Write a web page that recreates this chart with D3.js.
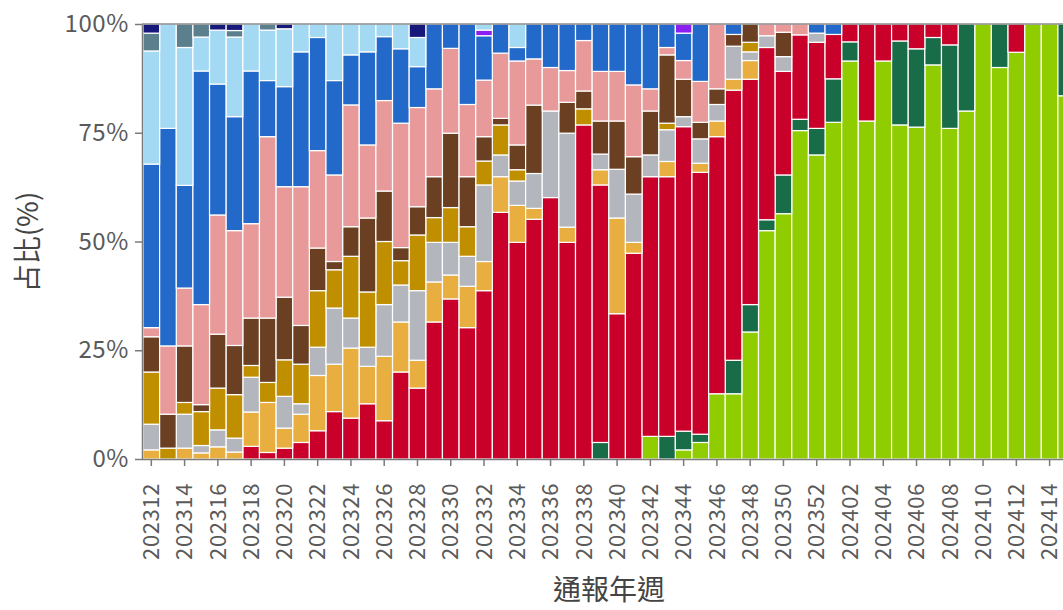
<!DOCTYPE html>
<html><head><meta charset="utf-8">
<script src="https://cdn.jsdelivr.net/npm/d3@7"></script>
<style>
html,body{margin:0;padding:0;background:#fff;overflow:hidden;}
svg{display:block;font-family:"Noto Sans CJK TC","Noto Sans",sans-serif;}
</style></head>
<body>
<svg id="chart" width="1063" height="610"></svg>
<script>
const weeks = ["202312","202313","202314","202315","202316","202317","202318","202319","202320","202321",
"202322","202323","202324","202325","202326","202327","202328","202329","202330","202331",
"202332","202333","202334","202335","202336","202337","202338","202339","202340","202341",
"202342","202343","202344","202345","202346","202347","202348","202349","202350","202351",
"202352","202401","202402","202403","202404","202405","202406","202407","202408","202409",
"202410","202411","202412","202413","202414","202415"];

// series values (% share), bottom to top of each stack
const lime    = [0,0,0,0,0,0,0,0,0,0, 0,0,0,0,0,0,0,0,0,0, 0,0,0,0,0,0,0,0,0,0, 5.2,0,2.1,3.8,15.0,15.0,29.2,52.5,56.4,75.5, 69.9,77.4,91.5,77.7,91.5,76.8,76.3,90.6,76.0,80.0, 100,90.0,93.5,100,100,83.5];
const dkgreen = [0,0,0,0,0,0,0,0,0,0, 0,0,0,0,0,0,0,0,0,0, 0,0,0,0,0,0,0,3.8,0,0, 0,5.2,4.3,1.9,0,7.7,6.3,2.5,8.9,2.6, 6.1,10.0,4.4,0,0,19.3,18.0,6.3,19.2,20.0, 0,10.0,0,0,0,16.5];
const crimson = [0,0,0,0,0,0,2.9,1.5,2.5,3.8, 6.5,10.9,9.4,12.7,8.8,20.0,16.3,31.5,36.8,30.2, 38.7,56.7,49.8,55.0,60.1,49.8,76.8,59.2,33.4,47.3, 59.7,59.7,70.0,60.2,59.1,62.1,51.8,39.6,23.8,19.4, 19.8,10.2,4.1,22.3,8.5,3.9,5.7,3.1,4.8,0, 0,0,6.5,0,0,0];
const lorange = [2.1,0,2.5,1.4,2.8,1.6,7.9,11.5,4.6,6.5, 12.7,10.9,16.1,8.6,14.8,11.5,6.4,9.2,5.5,9.5, 6.7,8.2,8.5,2.5,0,3.5,0,3.5,22.0,2.5, 0,3.5,0,2.1,3.6,2.5,4.3,0,0,0, 0,0,0,0,0,0,0,0,0,0, 0,0,0,0,0,0];
const gray    = [5.9,0,7.8,1.7,3.9,3.2,8.0,0,7.3,2.4, 6.5,12.9,6.9,4.4,11.9,8.5,16.0,9.1,7.5,6.9, 17.6,5.0,5.6,8.0,19.9,21.6,0,3.6,11.2,11.1, 5.0,7.3,2.3,5.6,3.8,7.6,2.0,2.7,3.4,0, 2.1,0,0,0,0,0,0,0,0,0, 0,0,0,0,0,0];
const gold    = [12.0,2.5,2.7,7.8,9.6,10.0,2.7,4.6,8.4,9.1, 13.0,8.8,14.2,12.7,14.5,5.6,12.8,5.7,8.0,6.8, 5.5,6.9,2.6,0,0,0,3.7,0,0,0, 0,1.5,0,0,0,0,2.2,0,0,0, 0,0,0,0,0,0,0,0,0,0, 0,0,0,0,0,0];
const brown   = [8.1,7.8,13.0,1.6,12.4,11.3,10.9,14.8,14.4,8.9, 9.8,1.9,6.8,17.0,11.6,3.0,6.5,9.4,17.1,11.5, 5.6,1.5,5.7,15.7,0,7.1,4.1,7.6,11.1,8.6, 10.1,15.7,8.6,3.8,3.6,2.7,4.2,0,5.6,0, 0,0,0,0,0,0,0,0,0,0, 0,0,0,0,0,0];
const pink    = [2.1,15.7,13.3,23.0,27.4,26.4,21.7,41.7,25.4,31.9, 22.4,19.9,28.0,16.8,20.8,28.6,22.8,20.2,19.5,16.6, 13.0,15.0,19.3,10.6,10.0,7.3,11.6,11.4,11.4,16.5, 5.1,1.7,4.3,9.4,14.9,0,0,2.7,1.9,2.5, 0,0,0,0,0,0,0,0,0,0, 0,0,0,0,0,0];
const blue    = [37.6,50.0,23.6,53.7,30.1,26.2,35.1,12.9,23.0,31.0, 26.0,21.7,11.5,21.4,14.7,17.1,9.4,14.9,5.6,18.5, 10.2,6.7,3.1,8.0,10.0,10.7,3.8,10.9,10.9,14.0, 14.9,5.4,6.3,13.2,0,2.4,0,0,0,0, 2.1,2.4,0,0,0,0,0,0,0,0, 0,0,0,0,0,0];
const purple  = [0,0,0,0,0,0,0,0,0,0, 0,0,0,0,0,0,0,0,0,0, 1.3,0,0,0,0,0,0,0,0,0, 0,0,2.1,0,0,0,0,0,0,0, 0,0,0,0,0,0,0,0,0,0, 0,0,0,0,0,0];
const lblue   = [26.0,24.0,31.7,7.8,12.4,18.3,10.8,11.6,13.3,6.4, 3.1,13.0,7.1,6.4,2.9,5.7,6.7,0,0,0, 1.4,0,5.4,0,0,0,0,0,0,0, 0,0,0,0,0,0,0,0,0,0, 0,0,0,0,0,0,0,0,0,0, 0,0,0,0,0,0];
const slate   = [4.1,0,5.4,3.0,0,1.5,0,1.4,0,0, 0,0,0,0,0,0,0,0,0,0, 0,0,0,0,0,0,0,0,0,0, 0,0,0,0,0,0,0,0,0,0, 0,0,0,0,0,0,0,0,0,0, 0,0,0,0,0,0];
const navy    = [2.1,0,0,0,1.4,1.5,0,0,1.1,0, 0,0,0,0,0,0,3.1,0,0,0, 0,0,0,0,0,0,0,0,0,0, 0,0,0,0,0,0,0,0,0,0, 0,0,0,0,0,0,0,0,0,0, 0,0,0,0,0,0];

const seriesKeys = ["lime","dkgreen","crimson","lorange","gray","gold","brown","pink","blue","purple","lblue","slate","navy"];
const seriesVals = [lime,dkgreen,crimson,lorange,gray,gold,brown,pink,blue,purple,lblue,slate,navy];
const seriesColors = ["#8fcc00","#186c47","#c8002a","#e8af40","#b3b7bd","#c08f00","#6b4022","#e89a9a","#2369c9","#8a1ff2","#a4d9f4","#5b7f8c","#16187a"];
const yTicks = [0,0.25,0.5,0.75,1];

const table = weeks.map((w,i)=>{
  const row = {week:w};
  seriesKeys.forEach((k,j)=>row[k]=seriesVals[j][i]);
  return row;
});

const svg = d3.select("#chart");
const plotLeft = 142, plotTop = 24, plotBottom = 459;
const step = 16.635;
const x = d3.scaleBand().domain(weeks).range([143, 143 + weeks.length*step]).padding(0);
const y = d3.scaleLinear().domain([0,1]).range([plotBottom, plotTop]);

const stacked = d3.stack().keys(seriesKeys).offset(d3.stackOffsetExpand)(table);
const color = d3.scaleOrdinal().domain(seriesKeys).range(seriesColors);

svg.append("g").selectAll("g").data(stacked).join("g")
  .attr("fill", d=>color(d.key))
  .selectAll("rect").data(d=>d.filter(p=>p[1]-p[0]>0)).join("rect")
  .attr("x", d=>x(d.data.week))
  .attr("width", x.bandwidth())
  .attr("y", d=>y(d[1]))
  .attr("height", d=>y(d[0])-y(d[1]))
  .attr("stroke","#fff").attr("stroke-width",1.2);

const axisColor = "#7a7a7a", textColor = "#5a5a5a";

// top frame line
svg.append("line").attr("x1",plotLeft).attr("x2",1063).attr("y1",plotTop).attr("y2",plotTop)
  .attr("stroke","#8a8a8a").attr("stroke-width",1.5);

const yAxis = svg.append("g").attr("transform",`translate(${plotLeft},0)`)
  .call(d3.axisLeft(y).tickValues(yTicks).tickFormat(d=>Math.round(d*100)+"%").tickSize(7).tickSizeOuter(0).tickPadding(6));
yAxis.select(".domain").attr("stroke",axisColor).attr("stroke-width",1.5);
yAxis.selectAll(".tick line").attr("stroke",axisColor).attr("stroke-width",1.5);
yAxis.selectAll("text").attr("fill",textColor).attr("font-size",24).attr("letter-spacing","0.6px")
  .attr("font-family","'Noto Sans CJK TC',sans-serif");

const xAxis = svg.append("g").attr("transform",`translate(0,${plotBottom})`)
  .call(d3.axisBottom(x).tickValues(weeks.filter((d,i)=>i%2===0)).tickSize(7).tickSizeOuter(0));
xAxis.select(".domain").attr("stroke",axisColor).attr("stroke-width",1.5).attr("d",`M${plotLeft},0.5H1063`);
xAxis.selectAll(".tick line").attr("stroke",axisColor).attr("stroke-width",1.5);
xAxis.selectAll("text")
  .attr("fill",textColor).attr("font-size",22).attr("font-family","'Noto Sans CJK TC',sans-serif")
  .attr("text-anchor","end")
  .attr("transform","translate(0,24) rotate(-90)")
  .attr("x",0).attr("y",0).attr("dy","0.35em")
  .attr("letter-spacing","0.6px");

svg.append("text").attr("transform","translate(38,242) rotate(-90)")
  .attr("text-anchor","middle").attr("fill","#444").attr("font-size",28)
  .text("占比(%)");
svg.append("text").attr("x",609).attr("y",600)
  .attr("text-anchor","middle").attr("fill","#444").attr("font-size",28)
  .text("通報年週");
</script>
</body></html>
